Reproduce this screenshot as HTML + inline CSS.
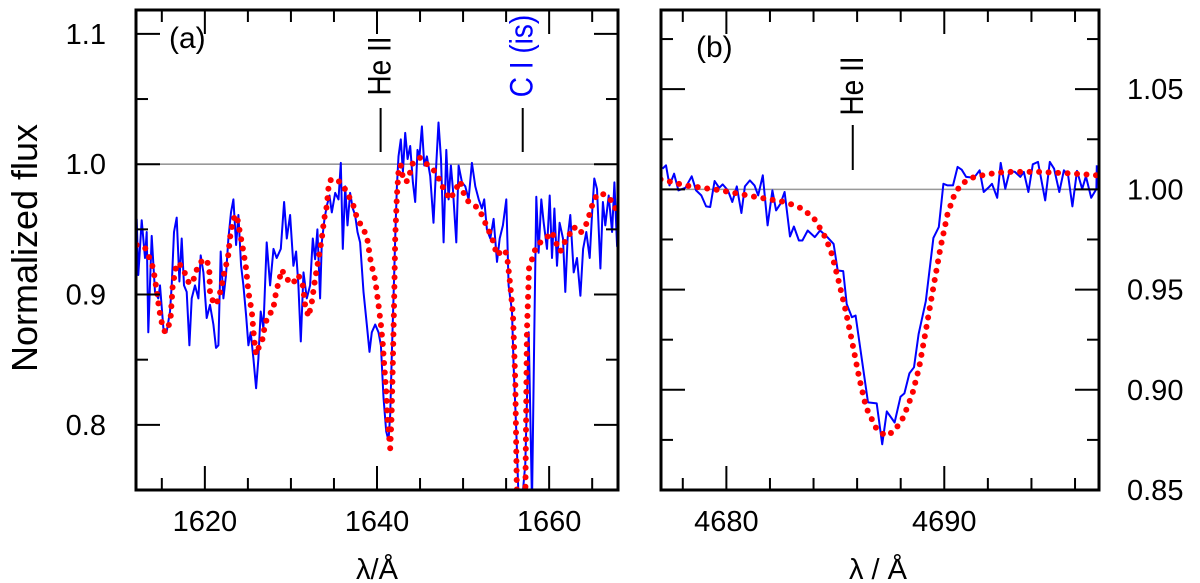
<!DOCTYPE html>
<html><head><meta charset="utf-8"><style>
html,body{margin:0;padding:0;background:#fff;}
svg{display:block;font-family:"Liberation Sans",sans-serif;}
</style></head><body>
<svg id="fig" width="1200" height="583" viewBox="0 0 1200 583" xmlns="http://www.w3.org/2000/svg">
<defs>
<clipPath id="clipA"><rect x="136" y="10" width="482" height="480"/></clipPath>
<clipPath id="clipB"><rect x="661" y="10" width="438" height="480"/></clipPath>
</defs>
<g id="panelA"></g>
<g id="panelB"></g>
</svg>
<script>
// ---- Panel (a) data ----
const obsA_wave=[1612.08,1612.27,1612.66,1613.04,1613.24,1613.43,1613.82,1614.21,1614.59,1614.79,1615.18,1615.56,1615.95,1616.15,1616.42,1616.73,1617.04,1617.31,1617.58,1617.89,1618.20,1618.47,1618.86,1619.25,1619.52,1619.83,1620.21,1620.60,1620.99,1621.30,1621.57,1621.84,1622.15,1622.46,1622.73,1623.04,1623.32,1623.63,1623.90,1624.21,1624.48,1624.79,1625.06,1625.33,1625.64,1625.95,1626.22,1626.49,1626.80,1627.19,1627.58,1627.97,1628.35,1628.82,1629.21,1629.52,1629.90,1630.29,1630.60,1630.87,1631.15,1631.46,1631.84,1632.23,1632.54,1632.81,1633.08,1633.39,1633.59,1633.90,1634.17,1634.48,1634.75,1635.14,1635.53,1635.80,1636.03,1636.30,1636.57,1636.88,1637.19,1637.46,1637.73,1638.04,1638.43,1638.82,1639.13,1639.40,1639.79,1640.18,1640.45,1640.76,1641.07,1641.34,1641.53,1641.73,1641.92,1642.12,1642.31,1642.50,1642.77,1643.01,1643.28,1643.55,1643.86,1644.17,1644.44,1644.71,1644.94,1645.22,1645.49,1645.80,1646.18,1646.57,1646.88,1647.15,1647.43,1647.74,1648.05,1648.32,1648.59,1648.82,1649.21,1649.48,1649.87,1650.26,1650.64,1651.03,1651.42,1651.81,1652.19,1652.46,1652.77,1653.16,1653.55,1653.94,1654.25,1654.63,1655.02,1655.29,1655.68,1655.87,1656.18,1656.46,1656.84,1657.23,1657.62,1658.01,1658.28,1658.51,1658.78,1659.09,1659.37,1659.75,1660.06,1660.33,1660.61,1660.91,1661.22,1661.61,1661.88,1662.15,1662.46,1662.85,1663.24,1663.63,1663.94,1664.32,1664.71,1664.98,1665.25,1665.56,1665.95,1666.24,1666.53,1666.92,1667.31,1667.58,1667.89,1668.0];
const obsA_flux=[0.958,0.915,0.957,0.928,0.948,0.871,0.945,0.902,0.897,0.907,0.874,0.871,0.887,0.907,0.948,0.959,0.910,0.943,0.907,0.902,0.861,0.897,0.907,0.897,0.930,0.917,0.882,0.892,0.877,0.859,0.861,0.933,0.897,0.915,0.943,0.963,0.973,0.938,0.961,0.922,0.907,0.884,0.861,0.871,0.851,0.828,0.851,0.887,0.874,0.940,0.907,0.935,0.928,0.935,0.971,0.943,0.961,0.922,0.933,0.907,0.864,0.917,0.897,0.907,0.943,0.927,0.950,0.897,0.940,0.958,0.968,0.976,0.963,0.978,0.973,1.001,0.935,0.983,0.953,0.978,0.966,0.961,0.948,0.940,0.902,0.877,0.856,0.871,0.877,0.871,0.861,0.821,0.795,0.788,0.808,0.856,0.897,0.943,0.983,1.006,1.019,0.994,1.024,1.004,1.014,0.986,0.971,1.011,1.006,1.029,0.999,1.006,0.991,0.955,0.999,1.032,1.004,0.940,1.011,0.973,0.999,0.981,0.940,0.999,0.986,0.983,0.973,1.001,0.983,0.973,0.966,0.973,0.950,0.943,0.958,0.925,0.943,0.953,0.973,0.907,0.887,0.846,0.795,0.74,0.74,0.770,0.871,0.74,0.871,0.975,0.932,0.973,0.955,0.935,0.976,0.928,0.966,0.922,0.955,0.943,0.902,0.943,0.961,0.917,0.928,0.899,0.935,0.948,0.928,0.961,0.989,0.981,0.920,0.971,0.953,0.976,0.948,0.986,0.937,0.958];
const modA_wave=[1612.08,1613.04,1613.63,1614.01,1614.40,1614.71,1614.98,1615.37,1615.76,1616.03,1616.26,1616.73,1617.31,1617.70,1618.20,1618.66,1619.05,1619.52,1620.21,1620.52,1620.60,1620.80,1621.18,1621.57,1621.96,1622.35,1622.66,1622.93,1623.32,1623.70,1624.09,1624.48,1624.79,1625.06,1625.45,1625.72,1625.95,1626.30,1626.61,1627.00,1627.39,1627.89,1628.28,1628.94,1629.52,1630.18,1630.87,1631.38,1631.65,1632.04,1632.42,1632.81,1633.20,1633.59,1633.86,1634.17,1634.44,1634.94,1635.53,1636.11,1636.69,1637.27,1637.66,1638.24,1638.82,1639.28,1639.79,1640.18,1640.45,1640.68,1640.84,1641.07,1641.22,1641.38,1641.53,1641.69,1641.84,1642.00,1642.12,1642.31,1642.54,1642.77,1643.08,1643.55,1644.17,1645.02,1645.80,1646.65,1647.35,1647.74,1648.51,1649.09,1649.67,1650.06,1650.64,1651.61,1652.19,1652.77,1653.35,1653.94,1654.52,1654.91,1655.18,1655.49,1655.80,1656.07,1656.26,1656.84,1657.23,1657.42,1657.66,1658.01,1658.40,1658.98,1659.75,1660.33,1660.91,1661.30,1661.69,1662.27,1662.85,1663.63,1664.40,1664.98,1665.56,1666.34,1667.11,1667.50,1668.0];
const modA_flux=[0.938,0.936,0.927,0.920,0.903,0.888,0.879,0.871,0.875,0.883,0.907,0.924,0.922,0.916,0.908,0.911,0.919,0.925,0.927,0.919,0.902,0.897,0.892,0.896,0.907,0.920,0.927,0.944,0.958,0.961,0.947,0.933,0.920,0.902,0.887,0.866,0.854,0.860,0.863,0.877,0.885,0.887,0.902,0.919,0.912,0.908,0.915,0.907,0.892,0.883,0.894,0.912,0.927,0.943,0.958,0.968,0.987,0.989,0.987,0.983,0.976,0.968,0.959,0.952,0.945,0.925,0.911,0.892,0.877,0.861,0.846,0.826,0.805,0.793,0.782,0.805,0.846,0.897,0.943,0.976,0.999,0.999,0.987,0.987,1.001,1.005,1.000,0.995,0.987,0.981,0.973,0.980,0.987,0.978,0.971,0.967,0.961,0.952,0.944,0.930,0.934,0.934,0.925,0.907,0.884,0.833,0.74,0.74,0.74,0.871,0.920,0.927,0.935,0.940,0.944,0.948,0.938,0.933,0.939,0.945,0.952,0.947,0.955,0.968,0.977,0.977,0.973,0.969,0.962];
const ticksA_x=[1620,1640,1660];
const ticksA_y=["0.8","0.9","1.0","1.1"];

// ---- Panel (b) data ----
const obsB_wave=[4677.07,4677.23,4677.39,4677.60,4677.80,4678.12,4678.41,4678.61,4678.85,4679.07,4679.26,4679.46,4679.67,4679.83,4680.07,4680.27,4680.48,4680.69,4680.85,4681.08,4681.29,4681.46,4681.67,4681.89,4682.11,4682.28,4682.48,4682.67,4682.92,4683.10,4683.33,4683.49,4683.73,4684.06,4684.30,4684.63,4684.92,4685.11,4685.36,4685.52,4685.76,4685.93,4686.50,4686.90,4687.15,4687.36,4687.72,4687.99,4688.17,4688.40,4688.61,4688.82,4689.15,4689.50,4689.75,4689.96,4690.15,4690.40,4690.61,4690.80,4691.00,4691.37,4691.62,4691.81,4692.02,4692.19,4692.43,4692.59,4692.80,4693.00,4693.24,4693.49,4693.65,4693.86,4694.06,4694.30,4694.63,4694.84,4695.04,4695.28,4695.49,4695.68,4695.88,4696.09,4696.33,4696.50,4696.74,4696.98,4697.0];
const obsB_flux=[1.0103,1.0120,1.0020,1.0078,0.9995,1.0008,1.0065,0.9995,0.9970,0.9915,0.9912,1.0042,1.0008,1.0025,0.9995,0.9937,1.0015,0.9882,1.0015,1.0045,1.0020,0.9970,1.0070,0.9820,0.9995,0.9895,0.9928,0.9987,0.9765,0.9815,0.9745,0.9745,0.9795,0.9762,0.9795,0.9762,0.9728,0.9595,0.9592,0.9428,0.9362,0.9370,0.8937,0.8932,0.8728,0.8892,0.8837,0.8965,0.8982,0.9082,0.9112,0.9278,0.9442,0.9758,0.9812,1.0028,1.0020,1.0020,1.0112,1.0098,1.0062,1.0058,1.0095,0.9987,1.0008,1.0028,0.9958,1.0132,1.0003,1.0092,1.0087,1.0062,1.0087,0.9987,1.0125,1.0137,0.9945,1.0137,1.0103,0.9987,1.0095,1.0070,0.9915,1.0092,1.0002,1.0065,0.9958,1.0002,1.0120];
const modB_wave=[4676.98,4678.12,4679.75,4681.37,4682.67,4683.33,4683.98,4684.46,4684.79,4685.11,4685.44,4685.76,4686.09,4686.41,4686.90,4687.31,4687.72,4688.12,4688.53,4688.85,4689.18,4689.50,4689.83,4690.15,4690.48,4690.80,4691.29,4691.94,4692.76,4694.38,4696.01,4697.0];
const modB_flux=[1.0050,1.0020,0.9995,0.9962,0.9937,0.9912,0.9862,0.9778,0.9695,0.9562,0.9412,0.9245,0.9062,0.8912,0.8803,0.8770,0.8795,0.8862,0.8978,0.9112,0.9312,0.9512,0.9712,0.9878,0.9978,1.0028,1.0058,1.0075,1.0087,1.0087,1.0078,1.0070];
const ticksB_x=[4680,4690];
const ticksB_y=["0.85","0.90","0.95","1.00","1.05"];

const NS="http://www.w3.org/2000/svg";
function mk(parent,tag,attrs,text){const e=document.createElementNS(NS,tag);for(const k in attrs)e.setAttribute(k,attrs[k]);if(text!==undefined)e.textContent=text;parent.appendChild(e);return e;}

const A={x0:136,x1:618,y0:490,y1:10,wmin:1612,wmax:1668,fmin:0.75,fmax:1.11832};
const B={x0:661,x1:1099,y0:490,y1:10,wmin:4677,wmax:4697.1,fmin:0.85,fmax:1.0895};
function xs(P,w){return P.x0+(w-P.wmin)/(P.wmax-P.wmin)*(P.x1-P.x0);}
function ys(P,f){return P.y0-(f-P.fmin)/(P.fmax-P.fmin)*(P.y0-P.y1);}
function pathD(P,W,F){return W.map((w,i)=>(i?'L':'M')+xs(P,w).toFixed(1)+','+ys(P,F[i]).toFixed(1)).join('');}

function drawPanel(g,P,clip,obsW,obsF,modW,modF,minorStepX,majorStepX,minorStepY,majorStepY){
  const ref=mk(g,'line',{x1:P.x0,x2:P.x1,y1:ys(P,1),y2:ys(P,1),stroke:'#999',"stroke-width":1.6});
  
  
  const cg=mk(g,'g',{"clip-path":'url(#'+clip+')'});
  const ob=mk(cg,'path',{d:pathD(P,obsW,obsF),fill:'none',stroke:'#0000ff',"stroke-width":2,"stroke-linejoin":'round'});
  
  
  const md=mk(cg,'path',{d:pathD(P,modW,modF),fill:'none',stroke:'#ff0000',"stroke-width":6,"stroke-linecap":'round',"stroke-dasharray":'0 9.5'});
  
  
  const tg=mk(g,'g',{stroke:'#000',"stroke-width":2});
  
  
  const startX=Math.ceil(P.wmin/minorStepX)*minorStepX;
  for(let w=startX;w<=P.wmax+1e-6;w+=minorStepX){
    const major=Math.abs(w/majorStepX-Math.round(w/majorStepX))<1e-6;
    const L=major?24:12,x=xs(P,w);
    mk(tg,'line',{x1:x,x2:x,y1:P.y0,y2:P.y0-L});
    mk(tg,'line',{x1:x,x2:x,y1:P.y1,y2:P.y1+L});
  }
  const startY=Math.ceil(P.fmin/minorStepY-1e-6)*minorStepY;
  for(let f=startY;f<=P.fmax+1e-6;f+=minorStepY){
    const major=Math.abs(f/majorStepY-Math.round(f/majorStepY))<1e-6;
    const L=major?24:12,y=ys(P,f);
    mk(tg,'line',{x1:P.x0,x2:P.x0+L,y1:y,y2:y});
    mk(tg,'line',{x1:P.x1,x2:P.x1-L,y1:y,y2:y});
  }
  const fr=mk(g,'rect',{x:P.x0,y:P.y1,width:P.x1-P.x0,height:P.y0-P.y1,fill:'none',stroke:'#000',"stroke-width":3});
  
  
}

const gA=document.getElementById('panelA');
const gB=document.getElementById('panelB');
drawPanel(gA,A,'clipA',obsA_wave,obsA_flux,modA_wave,modA_flux,5,20,0.05,0.1);
drawPanel(gB,B,'clipB',obsB_wave,obsB_flux,modB_wave,modB_flux,2,10,0.025,0.05);

ticksA_x.forEach(v=>{const t=mk(gA,'text',{x:xs(A,v),y:531,"font-size":29,"text-anchor":'middle'},String(v));
  
  });
ticksA_y.forEach(v=>{const t=mk(gA,'text',{x:106,y:ys(A,+v)+10,"font-size":29,"text-anchor":'end'},v);
  
  });
ticksB_x.forEach(v=>{const t=mk(gB,'text',{x:xs(B,v),y:531,"font-size":29,"text-anchor":'middle'},String(v));
  
  });
ticksB_y.forEach(v=>{const t=mk(gB,'text',{x:1127,y:ys(B,+v)+10,"font-size":29,"text-anchor":'start'},v);
  
  });

let t;
t=mk(gA,'text',{x:377,y:579,"font-size":29,"text-anchor":'middle'},'λ/Å');


t=mk(gB,'text',{x:878,y:579,"font-size":29,"text-anchor":'middle'},'λ / Å');


t=mk(gA,'text',{x:0,y:0,"font-size":36,"text-anchor":'middle',transform:'translate(37,248) rotate(-90)'},'Normalized flux');



t=mk(gA,'text',{x:169,y:48,"font-size":30},'(a)');


t=mk(gB,'text',{x:696,y:57,"font-size":30},'(b)');



function lineId(g,P,w,yTop,yBot,label,cy,color,name){
  const x=xs(P,w);
  const l=mk(g,'line',{x1:x,x2:x,y1:yTop,y2:yBot,stroke:'#000',"stroke-width":2});
  
  
  const tx=mk(g,'text',{x:0,y:0,"font-size":28,"text-anchor":'middle',fill:color,transform:'translate('+(x+10)+','+cy+') rotate(-90) scale(1,1.15)'},label);
  
  
}
lineId(gA,A,1640.42,108,152,'He II',66,'#000','he-ii-a');
lineId(gA,A,1656.93,108,152,'C I (is)',56,'#0000ff','c-i');
lineId(gB,B,4685.8,125,170,'He II',86,'#000','he-ii-b');
</script>
</body></html>
